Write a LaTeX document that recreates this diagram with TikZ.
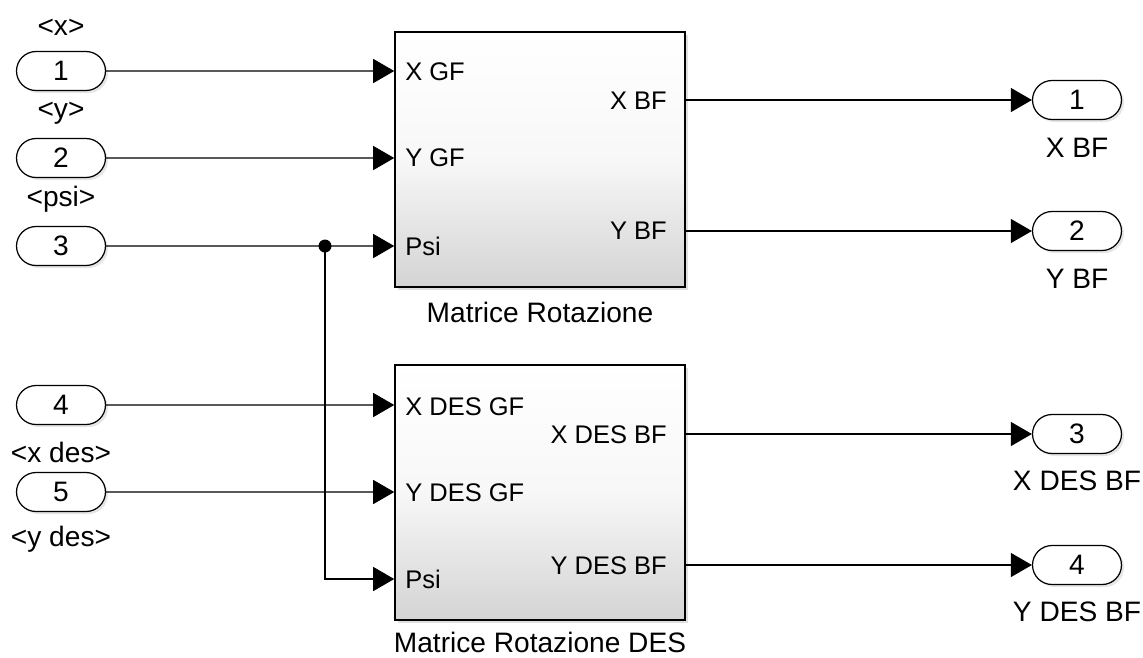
\documentclass[tikz,border=0pt]{standalone}
\usepackage{fontspec}
\setmainfont{Liberation Sans}
\usepackage{tikz}
\usetikzlibrary{positioning,arrows.meta,shapes.misc,shadows}

\begin{document}
\begin{tikzpicture}[x=0.02cm,y=-0.02cm,
  port/.style={rounded rectangle,draw,line width=0.7pt,fill=white,
    minimum width=1.78cm,minimum height=0.78cm,inner sep=0pt,
    font=\fontsize{16}{19}\selectfont,
    drop shadow={shadow xshift=0.05cm,shadow yshift=-0.05cm,opacity=0.2}},
  blk/.style={draw,line width=0.9pt,minimum width=5.8cm,minimum height=5.1cm,
    top color=white,bottom color=black!17,middle color=white!97!black,
    drop shadow={shadow xshift=0.06cm,shadow yshift=-0.06cm,opacity=0.25}},
  lbl/.style={font=\fontsize{16}{19}\selectfont,inner sep=0pt},
  pin/.style={font=\fontsize{14.5}{17}\selectfont,inner sep=0pt},
  dot/.style={circle,fill=black,inner sep=0pt,minimum size=0.26cm},
  sig/.style={line width=0.6pt,-{Triangle[length=0.42cm,width=0.48cm]}}]
  \useasboundingbox (0,0) rectangle (1143,657);

  % inports
  \node[port] (in1) at (61,71) {1};
  \node[port] (in2) at (61,158) {2};
  \node[port] (in3) at (61,246) {3};
  \node[port] (in4) at (61,405) {4};
  \node[port] (in5) at (61,492) {5};
  \node[lbl] (in1lbl) at (61,27) {\textless x\textgreater};
  \node[lbl] (in2lbl) at (61,113) {\textless y\textgreater};
  \node[lbl] (in3lbl) at (61,199) {\textless psi\textgreater};
  \node[lbl] (in4lbl) at (61,452) {\textless x des\textgreater};
  \node[lbl] (in5lbl) at (61,539) {\textless y des\textgreater};

  % subsystems
  \node[blk] (rot) at (540,159.5) {};
  \node[blk] (rotdes) at (540,492.5) {};
  \node[lbl] (rotcap) at (540,312) {Matrice Rotazione};
  \node[lbl] (rotdescap) at (540,642) {Matrice Rotazione DES};

  \node[pin,anchor=west] (xgf) at (405,72) {X GF};
  \node[pin,anchor=west] (ygf) at (405,158) {Y GF};
  \node[pin,anchor=west] (psi) at (405,246) {Psi};
  \node[pin,anchor=east] (xbf) at (667,101) {X BF};
  \node[pin,anchor=east] (ybf) at (667,231) {Y BF};
  \node[pin,anchor=west] (xdesgf) at (405,407) {X DES GF};
  \node[pin,anchor=west] (ydesgf) at (405,493) {Y DES GF};
  \node[pin,anchor=west] (psides) at (405,579) {Psi};
  \node[pin,anchor=east] (xdesbf) at (667,435) {X DES BF};
  \node[pin,anchor=east] (ydesbf) at (667,566) {Y DES BF};

  % outports
  \node[port] (out1) at (1077,100) {1};
  \node[port] (out2) at (1077,231) {2};
  \node[port] (out3) at (1077,434) {3};
  \node[port] (out4) at (1077,565) {4};
  \node[lbl] (out1lbl) at (1077,148) {X BF};
  \node[lbl] (out2lbl) at (1077,279) {Y BF};
  \node[lbl] (out3lbl) at (1077,481) {X DES BF};
  \node[lbl] (out4lbl) at (1077,612) {Y DES BF};

  \node[dot] (branch) at (325,246) {};

  % signals
  \draw[sig] (in1) -- (rot.west |- in1);
  \draw[sig] (in2) -- (rot.west |- in2);
  \draw[sig] (in3) -- (rot.west |- in3);
  \draw[sig] (in4) -- (rotdes.west |- in4);
  \draw[sig] (in5) -- (rotdes.west |- in5);
  \draw[sig] (branch.center) |- (rotdes.west |- psides);
  \draw[sig] (rot.east |- out1) -- (out1);
  \draw[sig] (rot.east |- out2) -- (out2);
  \draw[sig] (rotdes.east |- out3) -- (out3);
  \draw[sig] (rotdes.east |- out4) -- (out4);
\end{tikzpicture}
\end{document}
